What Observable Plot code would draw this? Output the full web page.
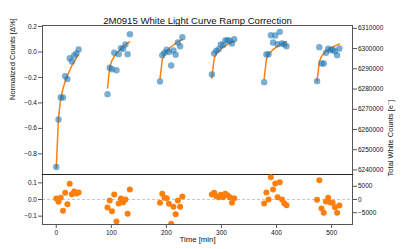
<!DOCTYPE html>
<html><head><meta charset="utf-8">
<script src="https://cdn.jsdelivr.net/npm/d3@7"></script>
<script src="https://cdn.jsdelivr.net/npm/@observablehq/plot@0.6"></script>
<style>
body{margin:0;background:#fff;}
#chart{position:relative;width:415px;height:249px;font-family:"Liberation Sans",Arial,sans-serif;}
#chart svg{display:block;overflow:visible;}
</style></head><body><div id="chart"></div>
<script>
const title = "2M0915 White Light Curve Ramp Correction";
const yLabel = "Normalized Counts [Δ%]";
const y2Label = "Total White Counts [e⁻]";
const xLabel = "Time [min]";

const time = [
  [0, 4.1, 8.1, 12.2, 16.2, 20.3, 24.4, 28.4, 32.5, 36.5, 40.6],
  [93.1, 97.1, 101.2, 105.3, 109.3, 113.4, 117.4, 121.5, 125.6, 129.6, 133.7],
  [188.4, 192.5, 196.5, 200.6, 204.6, 208.7, 212.8, 216.8, 220.9, 224.9, 229.0],
  [282.6, 286.7, 290.7, 294.8, 298.8, 302.9, 307.0, 311.0, 315.1, 319.1, 323.2],
  [377.5, 381.6, 385.6, 389.7, 393.7, 397.8, 401.9, 405.9, 410.0, 414.0, 418.1],
  [473.6, 477.7, 481.7, 485.8, 489.8, 493.9, 498.0, 502.0, 506.1, 510.1, 514.2]
];
const flux = [
  [-0.903, -0.53, -0.357, -0.357, -0.19, -0.213, -0.049, -0.075, -0.027, -0.012, 0.02],
  [-0.331, -0.124, -0.135, -0.006, -0.143, -0.017, 0.03, 0.025, 0.059, -0.017, 0.14],
  [-0.231, -0.025, -0.006, 0.017, 0, -0.106, 0.012, -0.022, 0.075, 0.045, 0.116],
  [-0.176, -0.012, 0.009, 0.022, 0.059, 0.053, 0.09, 0.093, 0.088, 0.067, 0.1],
  [-0.237, -0.02, -0.017, 0.132, 0.075, 0.129, 0.061, 0.158, 0.067, 0.061, 0.045],
  [-0.229, 0.038, -0.09, -0.09, -0.006, 0.025, 0.014, 0.02, 0.006, -0.025, 0.027]
];
const model = [
  [-0.909, -0.516, -0.367, -0.289, -0.23, -0.185, -0.143, -0.107, -0.075, -0.048, -0.022],
  [-0.283, -0.118, -0.065, -0.036, -0.011, 0.007, 0.024, 0.041, 0.056, 0.069, 0.08],
  [-0.211, -0.059, -0.016, 0.009, 0.026, 0.041, 0.055, 0.068, 0.079, 0.089, 0.098],
  [-0.206, -0.052, -0.012, 0.008, 0.024, 0.037, 0.049, 0.059, 0.068, 0.077, 0.084],
  [-0.213, -0.058, -0.02, 0.002, 0.018, 0.032, 0.044, 0.054, 0.064, 0.073, 0.081],
  [-0.229, -0.075, -0.036, -0.012, 0.004, 0.017, 0.029, 0.039, 0.048, 0.056, 0.063]
];
const resid = [
  [0.006, -0.014, 0.01, -0.068, 0.04, -0.028, 0.094, 0.032, 0.048, 0.036, 0.042],
  [-0.048, -0.006, -0.07, 0.03, -0.132, -0.024, 0.006, -0.016, 0, -0.086, 0.06],
  [-0.02, 0.034, 0.01, 0.008, -0.026, -0.146, -0.044, -0.088, -0.006, -0.044, 0.018],
  [0.03, 0.04, 0.02, 0.014, 0.028, 0.014, 0.034, 0.026, 0.014, -0.02, 0.008],
  [-0.024, 0.042, 0, 0.134, 0.06, 0.096, 0.014, 0.104, 0, -0.022, -0.034],
  [-0.002, 0.116, -0.054, -0.08, -0.012, 0.01, -0.018, -0.02, -0.046, -0.08, -0.036]
];

const baseCounts = 6298320;
const timeTicks = [0, 100, 200, 300, 400, 500];
const fluxTicks = [0.2, 0.0, -0.2, -0.4, -0.6, -0.8];
const countTicks = [6310000, 6300000, 6290000, 6280000, 6270000, 6260000, 6250000, 6240000];
const residTicks = [0.1, 0.0, -0.1];
const residCountTicks = [5000, 0, -5000];

const rows = time.flatMap((ts, k) => ts.map((t, i) => ({
  orbit: k, t, flux: flux[k][i], model: model[k][i], resid: resid[k][i]
})));

const xDomain = [-25, 538];
const font = '"Liberation Sans", Arial, sans-serif';
const axisColor = "#555";
const textColor = "#111";
const fmt1 = d3.format(".1f");
const fmtInt = d3.format("d");
const common = {
  width: 415, marginLeft: 42, marginRight: 63,
  style: {fontFamily: font, fontSize: "6.5px", background: "white", color: textColor, overflow: "visible"}
};

const topPlot = Plot.plot({
  ...common,
  height: 174, marginTop: 25, marginBottom: 0,
  x: {domain: xDomain, axis: null},
  y: {domain: [-0.962, 0.208], axis: null},
  marks: [
    Plot.frame({stroke: axisColor}),
    Plot.frame({anchor: "bottom", stroke: "#222", strokeWidth: 1.2}),
    Plot.axisY({ticks: fluxTicks, tickFormat: fmt1, tickSize: 4, tickPadding: 1.5, stroke: axisColor, label: null}),
    Plot.axisY({anchor: "right", ticks: countTicks.map(c => (c / baseCounts - 1) * 100),
      tickFormat: d => fmtInt(Math.round(baseCounts * (1 + d / 100) / 1000) * 1000),
      tickSize: 4, tickPadding: 1.5, stroke: axisColor, label: null}),
    Plot.line(rows, {x: "t", y: "model", z: "orbit", stroke: "#ff7f0e", strokeWidth: 1.5}),
    Plot.dot(rows, {x: "t", y: "flux", r: 3.2, fill: "#1f77b4", fillOpacity: 0.6}),
    Plot.text([title], {frameAnchor: "top", dy: -8, fontSize: 9.6}),
    Plot.text([yLabel], {frameAnchor: "left", rotate: -90, dx: -30, fontSize: 7.5}),
    Plot.text([y2Label], {frameAnchor: "right", rotate: -90, dx: 38, fontSize: 7.5})
  ]
});

const bottomPlot = Plot.plot({
  ...common,
  height: 75, marginTop: 0, marginBottom: 25,
  x: {domain: xDomain, axis: null},
  y: {domain: [-0.15, 0.15], axis: null},
  marks: [
    Plot.ruleY([0], {stroke: "#c8c8c8", strokeDasharray: "3,2"}),
    Plot.frame({stroke: axisColor}),
    Plot.frame({anchor: "top", stroke: "#222", strokeWidth: 1.2}),
    Plot.axisY({ticks: residTicks, tickFormat: fmt1, tickSize: 4, tickPadding: 1.5, stroke: axisColor, label: null}),
    Plot.axisY({anchor: "right", ticks: residCountTicks.map(c => c / baseCounts * 100),
      tickFormat: d => fmtInt(Math.round(baseCounts * d / 100 / 1000) * 1000),
      tickSize: 4, tickPadding: 1.5, stroke: axisColor, label: null}),
    Plot.axisX({ticks: timeTicks, tickFormat: d => String(d), tickSize: 4, tickPadding: 1.5, stroke: axisColor, label: null}),
    Plot.dot(rows, {x: "t", y: "resid", r: 3, fill: "#ff7f0e", clip: true}),
    Plot.text([xLabel], {frameAnchor: "bottom", dy: 17, fontSize: 7.8})
  ]
});

const chart = document.getElementById("chart");
chart.appendChild(topPlot);
chart.appendChild(bottomPlot);
</script>
</body></html>
